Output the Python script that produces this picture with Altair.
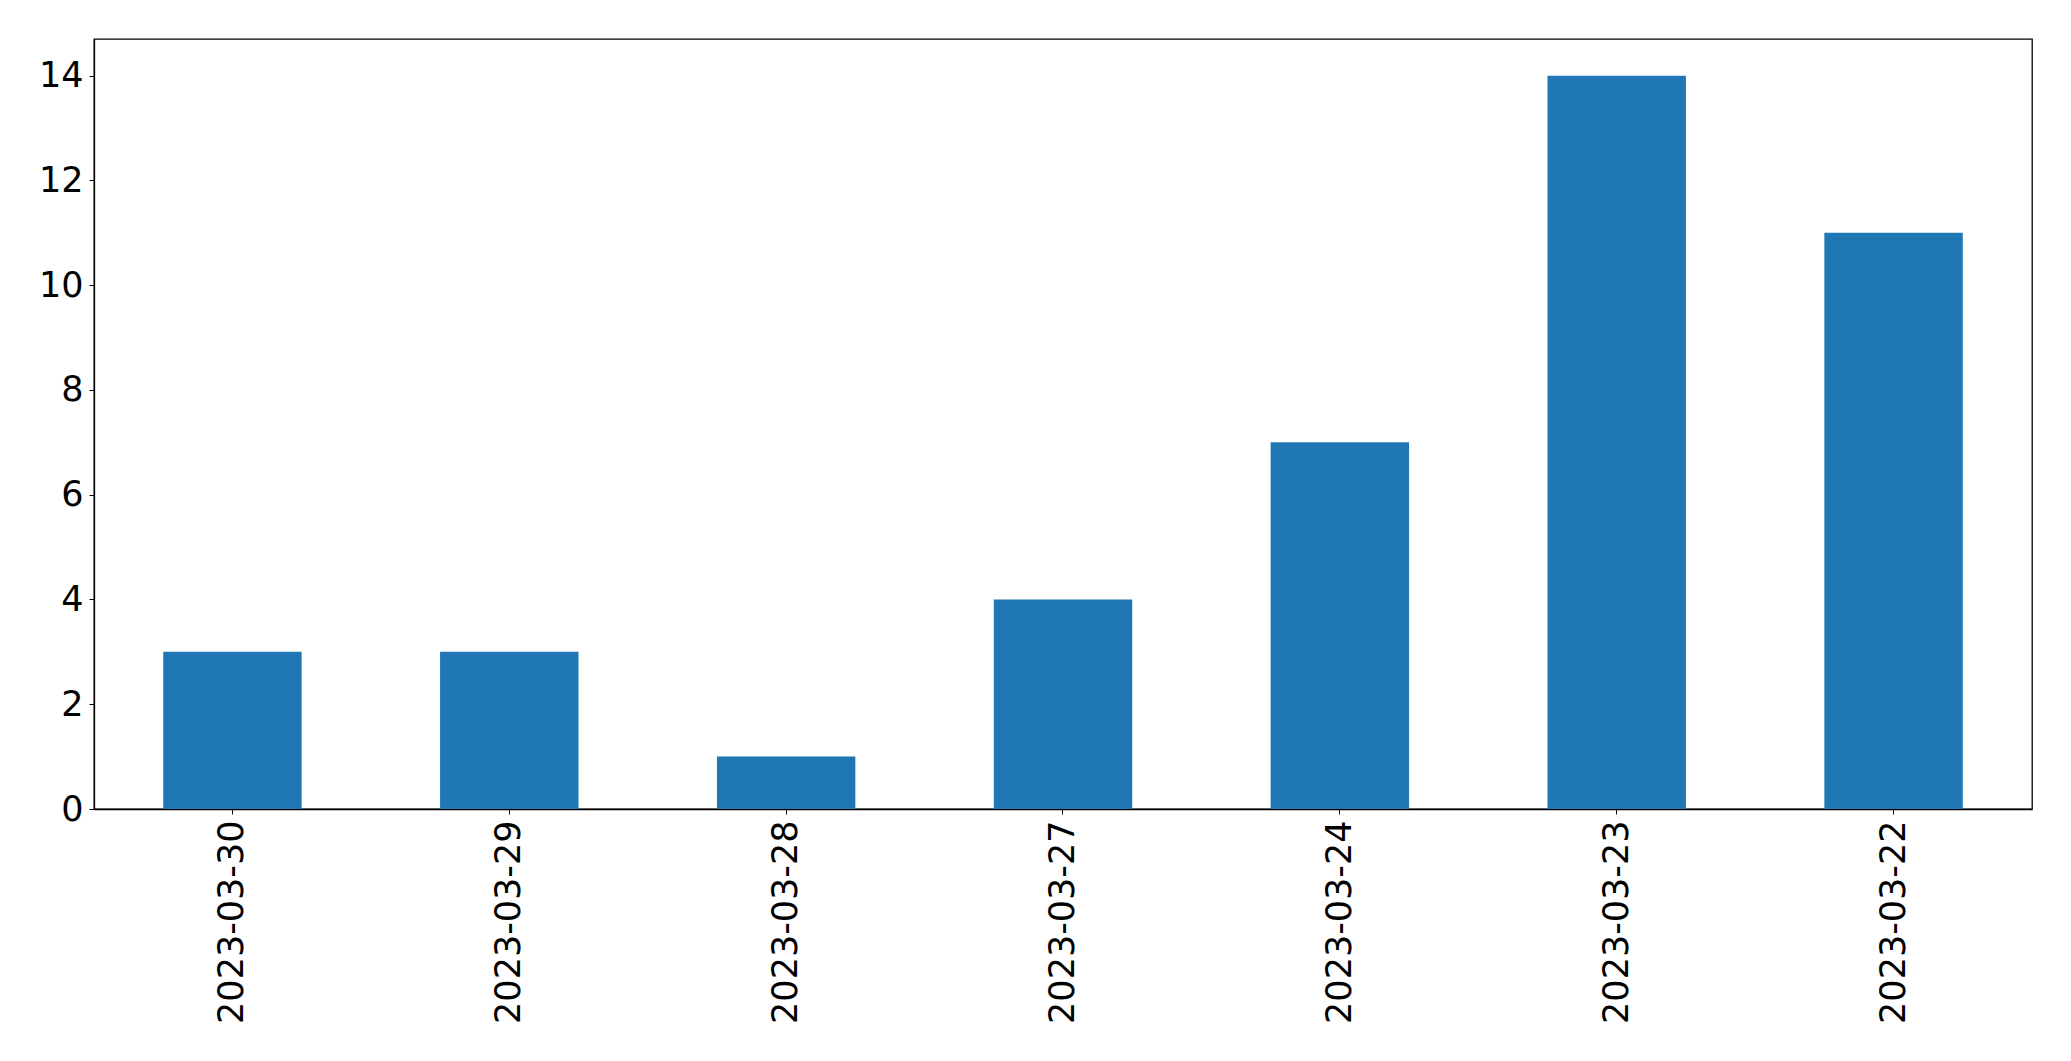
import altair as alt
import pandas as pd

dates = ["2023-03-30", "2023-03-29", "2023-03-28", "2023-03-27", "2023-03-24", "2023-03-23", "2023-03-22"]
counts = [3, 3, 1, 4, 7, 14, 11]
y_ticks = [0, 2, 4, 6, 8, 10, 12, 14]

df = pd.DataFrame({"date": dates, "count": counts})

FONT = "DejaVu Sans"
FS = 35

chart = alt.Chart(df).mark_bar(color="#1f77b4").encode(
    x=alt.X("date:N", sort=dates, title=None,
            scale=alt.Scale(paddingInner=0.5, paddingOuter=0.25),
            axis=alt.Axis(labelAngle=270, labelFontSize=FS, labelFont=FONT, labelColor="black",
                          labelLimit=0, tickColor="black", tickSize=5, labelPadding=6,
                          domainColor="black", domainWidth=1.3, grid=False)),
    y=alt.Y("count:Q", title=None,
            scale=alt.Scale(domain=[0, 14.7], nice=False),
            axis=alt.Axis(values=y_ticks, labelFontSize=FS, labelFont=FONT, labelColor="black",
                          tickColor="black", tickSize=5, labelPadding=6,
                          domainColor="black", domainWidth=1.3, grid=False)),
).properties(
    width=1938, height=770,
    autosize=alt.AutoSizeParams(type="none"),
    padding={"left": 86, "top": 31, "right": 30, "bottom": 240},
).configure_view(stroke="black", strokeWidth=1.3)

chart.save("out.html", embed_options={"renderer": "svg", "actions": False})
